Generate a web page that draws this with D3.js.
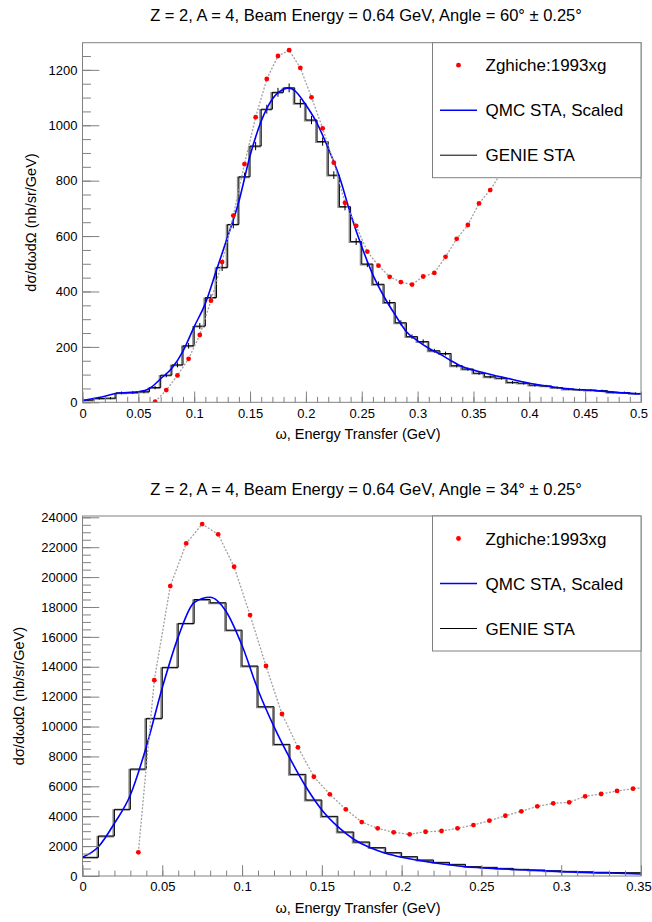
<!DOCTYPE html>
<html><head><meta charset="utf-8">
<script src="https://cdn.jsdelivr.net/npm/d3@7"></script>
<style>
html,body{margin:0;padding:0;background:#fff;}
svg{display:block;font-family:"Liberation Sans",Arial,Helvetica,sans-serif;}
</style></head><body>
<svg id="chart" width="652" height="922"></svg>
<script>
// ---------- 60 degree panel ----------
const topTitle = "Z = 2, A = 4, Beam Energy = 0.64 GeV, Angle = 60° ± 0.25°";
const topXTicks = [0, 0.05, 0.1, 0.15, 0.2, 0.25, 0.3, 0.35, 0.4, 0.45, 0.5];
const topXTickLabels = ["0", "0.05", "0.1", "0.15", "0.2", "0.25", "0.3", "0.35", "0.4", "0.45", "0.5"];
const topYTicks = [0, 200, 400, 600, 800, 1000, 1200];
const topYTickLabels = ["0", "200", "400", "600", "800", "1000", "1200"];

// Zghiche:1993xg measurements
const topDataX = [0.065, 0.075, 0.085, 0.095, 0.105, 0.115, 0.125, 0.135, 0.145, 0.155,
  0.165, 0.175, 0.185, 0.195, 0.205, 0.215, 0.225, 0.235, 0.245, 0.255,
  0.265, 0.275, 0.285, 0.295, 0.305, 0.315, 0.325, 0.335, 0.345, 0.355,
  0.365, 0.375, 0.385, 0.395];
const topDataY = [2, 44, 97, 157, 243, 367, 506, 674, 860, 1029,
  1167, 1250, 1271, 1207, 1101, 989, 865, 720, 637, 544,
  493, 453, 434, 425, 454, 467, 525, 590, 640, 718,
  766, 830, 890, 950];

// QMC STA, scaled
const topQmcX = [0, 0.01, 0.02, 0.03, 0.04, 0.05, 0.06, 0.07, 0.08, 0.09, 0.1, 0.11, 0.12, 0.13,
  0.14, 0.15, 0.16, 0.17, 0.18, 0.185, 0.19, 0.2, 0.21, 0.22, 0.23, 0.24, 0.25, 0.26, 0.27,
  0.28, 0.29, 0.3, 0.31, 0.32, 0.33, 0.34, 0.36, 0.38, 0.4, 0.42, 0.44, 0.46, 0.48, 0.5];
const topQmcY = [6, 14, 22, 32, 35, 38, 50, 85, 123, 185, 273, 357, 478, 598,
  725, 890, 1015, 1095, 1130, 1135, 1125, 1073, 1007, 917, 814, 680, 562, 460, 381,
  315, 255, 222, 195, 174, 150, 129, 106, 87, 69, 56, 47, 42, 35, 30];

// GENIE STA histogram, 0.01 GeV bins
const topGenieLow = [0, 0.01, 0.02, 0.03, 0.04, 0.05, 0.06, 0.07, 0.08, 0.09,
  0.1, 0.11, 0.12, 0.13, 0.14, 0.15, 0.16, 0.17, 0.18, 0.19,
  0.2, 0.21, 0.22, 0.23, 0.24, 0.25, 0.26, 0.27, 0.28, 0.29,
  0.3, 0.31, 0.32, 0.33, 0.34, 0.35, 0.36, 0.37, 0.38, 0.39,
  0.4, 0.41, 0.42, 0.43, 0.44, 0.45, 0.46, 0.47, 0.48, 0.49];
const topGenieY = [8, 14, 15, 34, 35, 38, 53, 98, 135, 204,
  275, 378, 487, 642, 814, 925, 1058, 1119, 1135, 1079,
  1019, 941, 820, 706, 580, 499, 426, 360, 287, 237,
  219, 186, 176, 132, 120, 105, 92, 87, 72, 69,
  62, 59, 53, 48, 46, 44, 42, 36, 35, 32];
const topGenieErr = [3, 4, 4, 5, 5, 5, 6, 8, 9, 10, 11, 12, 13, 14, 15, 15, 16, 16, 16, 16,
  15, 15, 14, 13, 12, 11, 10, 10, 9, 8, 8, 7, 7, 6, 6, 6, 5, 5, 5, 5,
  5, 4, 4, 4, 4, 4, 4, 4, 4, 4];

// ---------- 34 degree panel ----------
const botTitle = "Z = 2, A = 4, Beam Energy = 0.64 GeV, Angle = 34° ± 0.25°";
const botXTicks = [0, 0.05, 0.1, 0.15, 0.2, 0.25, 0.3, 0.35];
const botXTickLabels = ["0", "0.05", "0.1", "0.15", "0.2", "0.25", "0.3", "0.35"];
const botYTicks = [0, 2000, 4000, 6000, 8000, 10000, 12000, 14000, 16000, 18000, 20000, 22000, 24000];
const botYTickLabels = ["0", "2000", "4000", "6000", "8000", "10000", "12000", "14000", "16000", "18000", "20000", "22000", "24000"];

const botDataX = [0.035, 0.045, 0.055, 0.065, 0.075, 0.085, 0.095, 0.105, 0.115, 0.125,
  0.135, 0.145, 0.155, 0.165, 0.175, 0.185, 0.195, 0.205, 0.215, 0.225,
  0.235, 0.245, 0.255, 0.265, 0.275, 0.285, 0.295, 0.305, 0.315, 0.325,
  0.335, 0.345, 0.355];
const botDataY = [1585, 13100, 19400, 22250, 23545, 22860, 20690, 17460, 14050, 10840,
  8610, 6640, 5465, 4460, 3610, 3190, 2920, 2790, 2960, 3010,
  3190, 3410, 3700, 4030, 4330, 4660, 4860, 4930, 5330, 5485,
  5690, 5840, 5950];

const botQmcX = [0, 0.01, 0.02, 0.03, 0.04, 0.05, 0.06, 0.07, 0.08, 0.09, 0.1, 0.11, 0.12,
  0.13, 0.14, 0.15, 0.16, 0.17, 0.18, 0.19, 0.2, 0.22, 0.24, 0.26, 0.28, 0.3, 0.32, 0.34, 0.35];
const botQmcY = [1250, 1960, 3525, 5420, 8650, 12600, 16000, 18300, 18650, 17700, 15420, 12450, 10000,
  7870, 5970, 4420, 3300, 2460, 1900, 1520, 1250, 890, 624, 490, 400, 290, 220, 178, 134];

const botGenieLow = [0, 0.01, 0.02, 0.03, 0.04, 0.05, 0.06, 0.07, 0.08, 0.09,
  0.1, 0.11, 0.12, 0.13, 0.14, 0.15, 0.16, 0.17, 0.18, 0.19,
  0.2, 0.21, 0.22, 0.23, 0.24, 0.25, 0.26, 0.27, 0.28, 0.29,
  0.3, 0.31, 0.32, 0.33, 0.34];
const botGenieY = [1250, 2676, 4460, 7157, 10548, 13960, 16900, 18500, 18280, 16450,
  14047, 11325, 8807, 6800, 5084, 3991, 2943, 2274, 1895, 1560,
  1293, 1070, 914, 780, 624, 580, 512, 446, 400, 350,
  310, 280, 250, 230, 220];
const botGenieErr = botGenieY.map(() => 0);

const legendLabels = ["Zghiche:1993xg", "QMC STA, Scaled", "GENIE STA"];
const xAxisTitle = "ω, Energy Transfer (GeV)";
const yAxisTitle = "dσ/dωdΩ (nb/sr/GeV)";

const svg = d3.select("#chart");
const FL = 82.5, FR = 641;
const FRAME = "#808080";

function drawPanel(p, idx) {
  const g = svg.append("g");
  const x = d3.scaleLinear().domain(p.xDomain).range([FL, FR]);
  const y = d3.scaleLinear().domain(p.yDomain).range([p.fb, p.ft]);
  const clipId = "clip" + idx;
  g.append("clipPath").attr("id", clipId).append("rect")
    .attr("x", FL).attr("y", p.ft).attr("width", FR - FL).attr("height", p.fb - p.ft);

  // title
  g.append("text").attr("x", 366).attr("y", p.titleY).attr("text-anchor", "middle")
    .attr("font-size", 16.5).attr("fill", "#000").text(p.title);

  const plot = g.append("g").attr("clip-path", `url(#${clipId})`);

  // histogram (GENIE)
  const edges = p.genieLow.concat([p.genieLow[p.genieLow.length - 1] + (p.genieLow[1] - p.genieLow[0])]);
  const pts = edges.map((e, i) => [e, p.genieY[Math.min(i, p.genieY.length - 1)]]);
  const step = d3.line().x(d => x(d[0])).y(d => y(d[1])).curve(d3.curveStepAfter);
  plot.append("path").attr("d", step(pts)).attr("fill", "none")
    .attr("stroke", "#8a8a8a").attr("stroke-width", 1.6).attr("transform", "translate(-1.2,0.6)");
  plot.append("path").attr("d", step(pts)).attr("fill", "none")
    .attr("stroke", "#000").attr("stroke-width", 1);
  // error bars at bin centres
  const w = p.genieLow[1] - p.genieLow[0];
  plot.selectAll(null).data(p.genieLow.map((lo, i) => ({c: lo + w / 2, v: p.genieY[i], e: p.genieErr[i]})).filter(d => d.e > 0))
    .join("line")
    .attr("x1", d => x(d.c)).attr("x2", d => x(d.c))
    .attr("y1", d => y(d.v - d.e)).attr("y2", d => y(d.v + d.e))
    .attr("stroke", "#000").attr("stroke-width", 1);

  // QMC curve
  const qmc = d3.line().x(d => x(d[0])).y(d => y(d[1])).curve(d3.curveMonotoneX);
  plot.append("path").attr("d", qmc(p.qmcX.map((v, i) => [v, p.qmcY[i]])))
    .attr("fill", "none").attr("stroke", "#0000ff").attr("stroke-width", 1.6);

  // data: dotted connecting line + red markers
  const dl = d3.line().x(d => x(d[0])).y(d => y(d[1]));
  plot.append("path").attr("d", dl(p.dataX.map((v, i) => [v, p.dataY[i]])))
    .attr("fill", "none").attr("stroke", "#a0a0a0").attr("stroke-width", 1.3)
    .attr("stroke-dasharray", "2,1.6");
  plot.selectAll(null).data(p.dataX.map((v, i) => [v, p.dataY[i]]))
    .join("circle").attr("cx", d => x(d[0])).attr("cy", d => y(d[1])).attr("r", 2.4)
    .attr("fill", "#ff0000");

  // axes (ticks pointing inward)
  const yMinor = d3.range(p.yDomain[0], p.yDomain[1], p.yMinorStep);
  g.append("g").attr("transform", `translate(${FL},0)`)
    .call(d3.axisLeft(y).tickValues(yMinor).tickSize(-8.4).tickFormat(""))
    .call(s => s.select(".domain").remove())
    .selectAll("line").attr("stroke", FRAME);
  const yAx = g.append("g").attr("transform", `translate(${FL},0)`)
    .call(d3.axisLeft(y).tickValues(p.yTicks).tickSize(-16.8).tickPadding(5)
      .tickFormat((d, i) => p.yTickLabels[i]));
  yAx.select(".domain").remove();
  yAx.selectAll("line").attr("stroke", FRAME);
  yAx.selectAll("text").attr("font-size", 13).attr("fill", "#000")
    .attr("font-family", "'Liberation Sans',Arial,sans-serif");

  const xMinor = d3.range(p.xDomain[0], p.xDomain[1] + 1e-9, 0.01);
  g.append("g").attr("transform", `translate(0,${p.fb})`)
    .call(d3.axisBottom(x).tickValues(xMinor).tickSize(-5.4).tickFormat(""))
    .call(s => s.select(".domain").remove())
    .selectAll("line").attr("stroke", FRAME);
  const xAx = g.append("g").attr("transform", `translate(0,${p.fb})`)
    .call(d3.axisBottom(x).tickValues(p.xTicks).tickSize(-10.8).tickPadding(6)
      .tickFormat((d, i) => p.xTickLabels[i]));
  xAx.select(".domain").remove();
  xAx.selectAll("line").attr("stroke", FRAME);
  xAx.selectAll("text").attr("font-size", 13).attr("fill", "#000")
    .attr("font-family", "'Liberation Sans',Arial,sans-serif");
  // keep the last tick label inside the page
  xAx.selectAll(".tick:last-of-type text").attr("dx", -2.5);

  // frame
  g.append("rect").attr("x", FL).attr("y", p.ft).attr("width", FR - FL).attr("height", p.fb - p.ft)
    .attr("fill", "none").attr("stroke", FRAME).attr("stroke-width", 1);

  // axis titles
  g.append("text").attr("x", 358).attr("y", p.fb + 37).attr("text-anchor", "middle")
    .attr("font-size", 14.5).text(xAxisTitle);
  g.append("text").attr("transform", `translate(${p.yTitleX},${(p.ft + p.fb) / 2}) rotate(-90)`)
    .attr("text-anchor", "middle").attr("font-size", 14.5).text(yAxisTitle);

  // legend
  const lx = 432.5, lw = FR - lx, lh = 135;
  const lg = g.append("g");
  lg.append("rect").attr("x", lx).attr("y", p.ft).attr("width", lw).attr("height", lh)
    .attr("fill", "#fff").attr("stroke", FRAME).attr("stroke-width", 1);
  legendLabels.forEach((lab, i) => {
    const cy = p.ft + 22.5 + i * 45;
    if (i === 0) {
      lg.append("circle").attr("cx", 458.5).attr("cy", cy).attr("r", 2.4).attr("fill", "#ff0000");
    } else {
      lg.append("line").attr("x1", 440).attr("x2", 477).attr("y1", cy).attr("y2", cy)
        .attr("stroke", i === 1 ? "#0000ff" : "#000").attr("stroke-width", i === 1 ? 1.6 : 1);
    }
    lg.append("text").attr("x", 485.5).attr("y", cy + 6).attr("font-size", 17).text(lab);
  });
}

drawPanel({
  title: topTitle, titleY: 21, ft: 42.7, fb: 402.3, xDomain: [0, 0.5], yDomain: [0, 1298],
  xTicks: topXTicks, xTickLabels: topXTickLabels, yTicks: topYTicks, yTickLabels: topYTickLabels,
  yMinorStep: 50, yTitleX: 36,
  dataX: topDataX, dataY: topDataY, qmcX: topQmcX, qmcY: topQmcY,
  genieLow: topGenieLow, genieY: topGenieY, genieErr: topGenieErr
}, 0);

drawPanel({
  title: botTitle, titleY: 495, ft: 516, fb: 876, xDomain: [0, 0.35], yDomain: [0, 24087],
  xTicks: botXTicks, xTickLabels: botXTickLabels, yTicks: botYTicks, yTickLabels: botYTickLabels,
  yMinorStep: 500, yTitleX: 24,
  dataX: botDataX, dataY: botDataY, qmcX: botQmcX, qmcY: botQmcY,
  genieLow: botGenieLow, genieY: botGenieY, genieErr: botGenieErr
}, 1);
</script>
</body></html>
